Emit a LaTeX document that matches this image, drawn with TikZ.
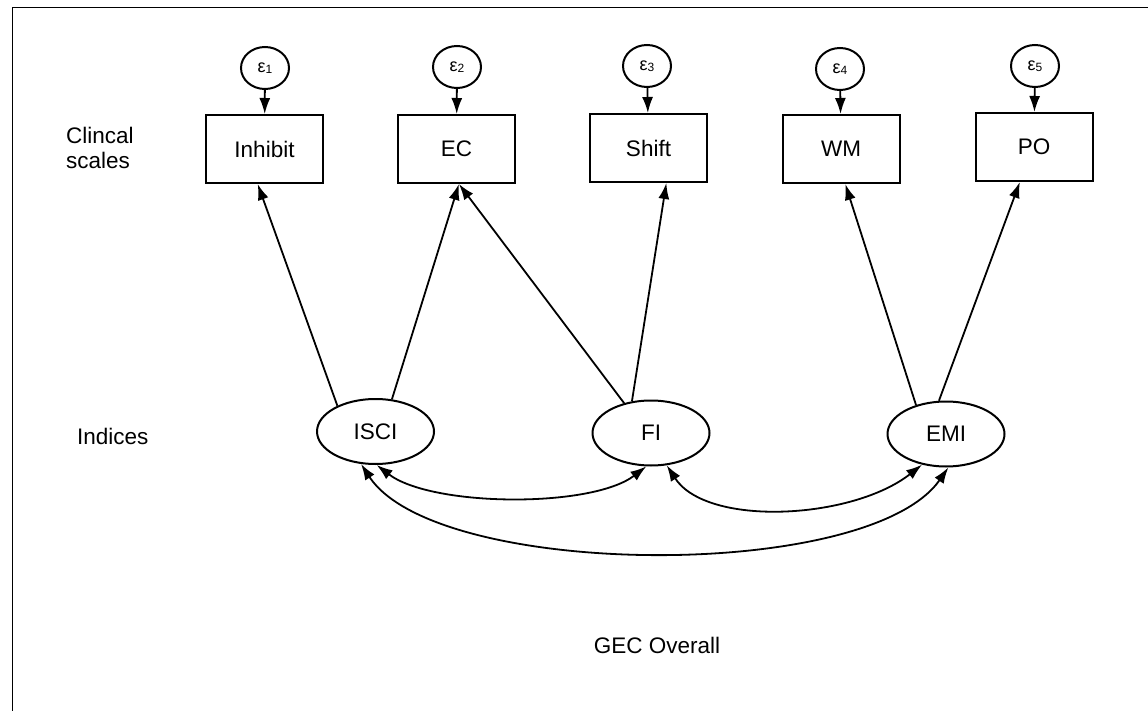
\documentclass[tikz,border=0pt]{standalone}
\usepackage{fontspec}
\setmainfont{Liberation Sans}
\usetikzlibrary{shapes.geometric,arrows.meta}
\begin{document}
\begin{tikzpicture}[x=1pt,y=-1pt,
  font=\fontsize{22.5}{25}\selectfont,
  errnode/.style={draw,ellipse,line width=2pt,minimum width=48pt,minimum height=42pt,inner sep=0pt,font=\fontsize{18}{18}\selectfont},
  scalebox/.style={draw,rectangle,line width=2pt,minimum width=117pt,minimum height=68pt,inner sep=0pt},
  latent/.style={draw,ellipse,line width=2pt,minimum width=117pt,minimum height=65pt,inner sep=0pt},
  lnk/.style={line width=1.8pt,-{Latex[length=16pt,width=11pt]}},
  cov/.style={line width=1.8pt,{Latex[length=16pt,width=11pt]}-{Latex[length=16pt,width=11pt]}},
  lbl/.style={inner sep=0pt,align=left}
]
\useasboundingbox (0,0) rectangle (1148,711);
\draw[line width=1.8pt] (12.5,711) -- (12.5,7.5) -- (1148,7.5);

\newcommand{\eps}[1]{ε\raisebox{-1.5pt}{\fontsize{12}{12}\selectfont #1}}

% error terms
\node[errnode] (e1) at (265,68) {\eps{1}};
\node[errnode] (e2) at (457,67) {\eps{2}};
\node[errnode] (e3) at (647,66) {\eps{3}};
\node[errnode] (e4) at (840,69) {\eps{4}};
\node[errnode] (e5) at (1035,66) {\eps{5}};

% clinical scales
\node[scalebox] (inh) at (264.5,149) {Inhibit};
\node[scalebox] (ec) at (456.5,149) {EC};
\node[scalebox] (shf) at (648.5,148) {Shift};
\node[scalebox] (wm) at (841,149) {WM};
\node[scalebox] (po) at (1034,147) {PO};

% indices
\node[latent] (isci) at (375.5,431.5) {ISCI};
\node[latent] (fi) at (651,433) {FI};
\node[latent] (emi) at (946,434) {EMI};

% labels
\node[lbl,anchor=west] (lcs) at (66,148) {Clincal\\scales};
\node[lbl,anchor=west] (lind) at (77,436) {Indices};
\node[lbl] (lgec) at (657,645) {GEC Overall};

% error arrows
\draw[lnk] (e1) -- (inh);
\draw[lnk] (e2) -- (ec);
\draw[lnk] (e3) -- (shf);
\draw[lnk] (e4) -- (wm);
\draw[lnk] (e5) -- (po);

% loadings
\draw[lnk] (isci.146) -- (inh.259);
\draw[lnk] (isci.63) -- (ec.274);
\draw[lnk] (fi.132) -- (ec.274);
\draw[lnk] (fi.121) -- (shf.297);
\draw[lnk] (emi.136) -- (wm.277);
\draw[lnk] (emi.102) -- (po.248);

% covariances
\draw[cov] (isci.272) .. controls +(55,42) and +(-55,42) .. (fi.262);
\draw[cov] (fi.296) .. controls +(40,62) and +(-70,55) .. (emi.232);
\draw[cov] (isci.246) .. controls +(75,115) and +(-80,115) .. (emi.274);
\end{tikzpicture}
\end{document}
